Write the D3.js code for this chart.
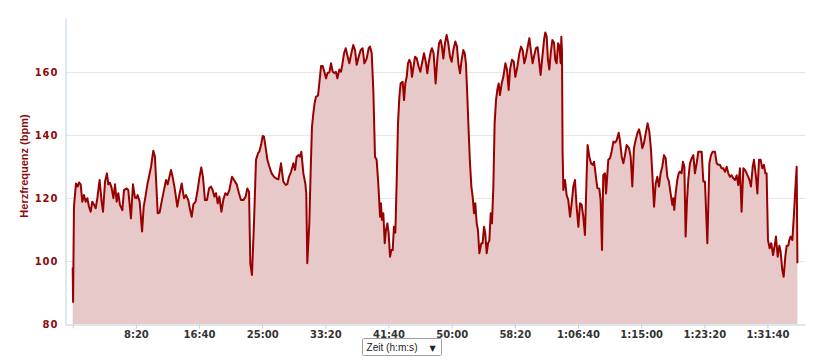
<!DOCTYPE html>
<html>
<head>
<meta charset="utf-8">
<script src="https://cdn.jsdelivr.net/npm/d3@7"></script>
<style>
  html, body { margin: 0; padding: 0; background: #ffffff; }
  svg { display: block; }
</style>
</head>
<body>
<div id="chart"></div>
<script>
// ---- data (elapsed seconds, heart rate in bpm) ----
const timeSec = [
  0,3,10,26,39,50,63,76,89,103,116,129,142,155,169,182,195,213,229,240,256,271,282,295,308,322,335,348,361,374,393,406,427,440,461,477,493,504,514,530,549,562,578,591,604,620,638,651,673,688,704,720,739,752,778,791,807,828,844,863,881,897,915,929,942,955,973,989,1002,1018,1031,1047,1063,1079,1095,1108,1121,1134,1148,1161,1177,1192,1208,1224,1240,1261,1277,1298,1316,1332,1351,1369,1382,1396,1406,1419,1435,1451,1467,1477,1491,1504,1514,1528,1541,1557,1575,1593,1609,1628,1649,1667,1686,1699,1712,1728,1747,1760,1773,1789,1799,1810,1826,1842,1849,1857,1873,1884,1894,1905,1915,1926,1942,1952,1966,1979,1992,2005,2018,2032,2045,2058,2071,2084,2095,2111,2124,2134,2148,2161,2177,2190,2206,2221,2235,2248,2264,2280,2295,2309,2327,2343,2353,2367,2380,2393,2406,2419,2433,2440,2448,2459,2470,2480,2491,2501,2512,2522,2533,2543,2554,2565,2575,2586,2596,2612,2623,2633,2644,2654,2665,2675,2686,2696,2710,2723,2739,2752,2765,2781,2797,2807,2818,2834,2844,2857,2873,2886,2900,2913,2923,2934,2947,2960,2973,2987,3000,3013,3029,3042,3053,3066,3079,3092,3103,3113,3124,3134,3145,3156,3166,3177,3187,3198,3208,3219,3235,3245,3256,3266,3277,3288,3298,3309,3319,3330,3340,3351,3361,3372,3382,3396,3409,3425,3438,3451,3462,3477,3491,3504,3520,3536,3549,3562,3575,3588,3602,3615,3628,3641,3654,3667,3681,3694,3704,3718,3731,3741,3752,3762,3773,3784,3797,3810,3820,3831,3842,3852,3863,3868,3873,3878,3884,3897,3910,3923,3937,3950,3963,3976,3989,4003,4016,4029,4042,4055,4069,4076,4090,4103,4116,4127,4142,4153,4169,4179,4190,4200,4214,4222,4240,4253,4266,4280,4293,4306,4322,4332,4346,4359,4372,4385,4404,4417,4430,4443,4456,4470,4483,4496,4509,4522,4538,4551,4565,4578,4588,4602,4615,4628,4641,4654,4667,4681,4694,4707,4720,4733,4747,4755,4762,4773,4786,4797,4807,4820,4831,4842,4852,4863,4873,4886,4900,4913,4926,4939,4953,4966,4979,4992,5005,5024,5040,5053,5066,5084,5098,5111,5124,5137,5150,5164,5177,5190,5203,5216,5230,5243,5256,5269,5282,5295,5309,5322,5335,5348,5361,5369,5383,5393,5409,5420,5433,5446,5459,5472,5483,5493,5504,5517,5530,5544,5557,5567,5581,5594,5604,5617,5628,5641,5652,5665,5673,5683,5697,5710,5720,5731,5737
];
const heartRate = [
  98,87,117.3,124.7,123.7,125,124.4,118.9,121,118.9,120,117.3,115.7,118.9,117.9,116.8,120,125.8,118.9,115.7,125.3,127.9,124.4,124.9,123.3,120,124.4,118.9,121.6,117.9,116.2,122.6,123.1,122.6,113.6,124.4,120.2,120,121,118.9,109.4,117.3,121,124.4,126.8,130,135.1,133.2,115.2,115.4,118.9,122.1,125.8,124.4,129,126.8,123.2,117.3,121,124.7,120,121,119.4,116.3,114.1,118,118.9,122.6,126.3,129.8,126.8,119.4,119.4,123.1,123.7,122.6,120.5,121.6,118.4,120.5,115.7,119.4,121.6,121,122.6,126.8,125.8,124.4,121.6,119.4,119.4,120.5,123.1,122,99.3,95.6,112,132.2,134.3,134.8,136.9,139.8,139.6,135.9,132.2,130,127.9,126.8,126.3,126,131.1,125.3,124.2,124.5,126.8,128.3,131.1,129,133.2,133.7,133.2,134.8,127.9,124.5,121.5,99.3,112,129,142.7,147,150.2,152.3,152.6,156.5,162,162,160.2,158.1,159.9,160,162.9,160.2,159.8,160.2,158.1,160.9,160.2,162.4,166.1,167.7,165,162.9,166.1,168.7,167.1,162.4,165,167.1,167.7,162.9,164.4,167.7,168.2,166.1,154,133.2,132.2,124.7,114.1,118.4,113.1,115.2,105.7,109.9,112,108.9,101.4,103.5,103.5,110.9,109,125.8,143.8,152.3,156.5,157,151.2,156.5,158.6,162.9,164,163,158.6,161.3,165,164.5,161.8,160.2,162.9,166.1,162.9,159.7,163,166.6,167.7,166.1,156.5,164,169.3,170.3,168.2,164.4,169.3,171.9,169.3,165,163.4,167.1,169.8,168.2,162.9,159.7,164,167.1,166.1,162.9,152.3,141.7,131.1,123.7,120.5,115.2,118.4,112,109.9,102.5,105.7,105.7,110.9,108.9,102.5,105.7,106.5,115.2,112,123.7,143.8,151.2,154.4,156.5,152.8,156.5,158.6,162.9,160.9,154.4,160.9,164,163.5,158.6,161.8,166.1,168.2,167.1,162.9,165,168.2,170.9,166.6,162.9,165.5,167.7,168,162.9,159.2,165,170.3,172.7,171.5,164,160.9,166.1,170.3,169.5,164,162.9,169.3,168.5,162.9,171.3,167,135,122.6,125.8,121,119.4,114.1,118.4,123.7,125.8,117.3,110.9,118.4,117.9,114.1,108.3,127.9,136.9,133.2,131.1,130.6,131.6,126.8,123.2,123,119.4,103.5,127.4,127.9,121.5,132.2,132.7,134.8,138,137.7,138.4,140.8,138.4,133.2,131.1,133.7,136.9,135.9,133.2,123.7,135.9,138.4,140.6,141.9,139.6,135.9,137.5,141.1,143.8,141.1,135.3,127.9,117.3,124.7,126.8,123.7,127.9,130,133.7,132.7,126.8,125.3,121.5,117.9,120,116.3,121.5,125.8,127.9,128.5,127.9,131.6,130,107.8,119.4,125.8,131.1,132.7,133.7,127.9,131.1,134.8,134.8,134.8,125.3,125.3,105.7,131.1,133.7,134.8,134.8,131.1,130.6,130.6,129.5,129.5,128.4,130,127.9,126.8,127.3,126.3,125.8,127.3,124.2,129.5,115.7,129.5,129,127.9,126.8,125.3,123.7,130,132.2,126.8,121.5,132.2,132.2,129.5,130.6,127.9,127.9,106.7,104.1,105.7,101.9,104.9,107.8,101.4,104.9,103,97.2,95,101.4,104.9,104.9,106.7,107.8,106.7,115.2,122.6,130,99.3
];
const yTickValues = [80, 100, 120, 140, 160];
const xTickValues = [0, 500, 1000, 1500, 2000, 2500, 3000, 3500, 4000, 4500, 5000, 5500];
const xTickLabels = ["", "8:20", "16:40", "25:00", "33:20", "41:40", "50:00", "58:20", "1:06:40", "1:15:00", "1:23:20", "1:31:40"];
const yTitle = "Herzfrequenz (bpm)";
const xSelectorLabel = "Zeit (h:m:s)";

// ---- layout ----
const W = 817, H = 364;
const plotL = 65, plotR = 805, plotT = 18, plotB = 324;

const data = timeSec.map((t, i) => ({ t, v: heartRate[i] }));

const x = d3.scaleLinear().domain([-61, 5797]).range([plotL, plotR]);
const y = d3.scaleLinear().domain([80, 177.3]).range([plotB, plotT]);

const svg = d3.select("#chart").append("svg")
  .attr("width", W).attr("height", H);

// gridlines
svg.append("g")
  .selectAll("line")
  .data(yTickValues.filter(v => v !== 80))
  .join("line")
  .attr("x1", plotL).attr("x2", plotR)
  .attr("y1", d => Math.round(y(d)) + 0.5).attr("y2", d => Math.round(y(d)) + 0.5)
  .attr("stroke", "#e6e6e6").attr("stroke-width", 1);

// area + line
const area = d3.area().x(d => x(d.t)).y0(y(80)).y1(d => y(d.v));
const line = d3.line().x(d => x(d.t)).y(d => y(d.v));

svg.append("path").datum(data)
  .attr("d", area)
  .attr("fill", "#e8c9c9");

svg.append("path").datum(data)
  .attr("d", line)
  .attr("fill", "none")
  .attr("stroke", "#990000")
  .attr("stroke-width", 2)
  .attr("stroke-linejoin", "round");

// y axis
const yAxis = d3.axisLeft(y).tickValues(yTickValues).tickSize(0).tickPadding(7);
const gy = svg.append("g").attr("transform", `translate(${plotL + 0.5},0)`).call(yAxis);
gy.select(".domain").attr("stroke", "#c0d0e0");
gy.selectAll("text")
  .attr("fill", "#8b0a0a")
  .attr("font-family", "'DejaVu Sans', Verdana, sans-serif")
  .attr("font-weight", "bold")
  .attr("font-size", "10px")
  .attr("letter-spacing", "1px");

// x axis
const xAxis = d3.axisBottom(x).tickValues(xTickValues)
  .tickFormat((d, i) => xTickLabels[i]).tickSize(4).tickSizeOuter(0).tickPadding(2);
const gx = svg.append("g").attr("transform", `translate(0,${plotB + 0.5})`).call(xAxis);
gx.select(".domain").attr("stroke", "#c0d0e0");
gx.selectAll(".tick line").attr("stroke", "#c0d0e0");
gx.selectAll("text")
  .attr("fill", "#333333")
  .attr("font-family", "'DejaVu Sans', Verdana, sans-serif")
  .attr("font-weight", "bold")
  .attr("font-size", "10px");

// y title
svg.append("text")
  .attr("transform", `translate(28,${(plotT + plotB) / 2 - 5}) rotate(-90)`)
  .attr("text-anchor", "middle")
  .attr("fill", "#8b0a0a")
  .attr("font-family", "'Liberation Sans', Arial, sans-serif")
  .attr("font-weight", "bold")
  .attr("font-size", "11px")
  .text(yTitle);

// x selector box
const sel = svg.append("g").attr("transform", "translate(362.5,338.5)");
sel.append("rect").attr("width", 79).attr("height", 17)
  .attr("fill", "#ffffff").attr("stroke", "#a0a0a0").attr("rx", 1);
sel.append("text").attr("x", 4).attr("y", 12.5)
  .attr("font-family", "'Liberation Sans', Arial, sans-serif")
  .attr("font-size", "10.5px").attr("fill", "#222")
  .attr("textLength", 51).attr("lengthAdjust", "spacingAndGlyphs")
  .text(xSelectorLabel);
sel.append("text").attr("x", 67).attr("y", 12)
  .attr("font-family", "'DejaVu Sans', sans-serif")
  .attr("font-size", "8px").attr("fill", "#222")
  .text("▼");
</script>
</body>
</html>
